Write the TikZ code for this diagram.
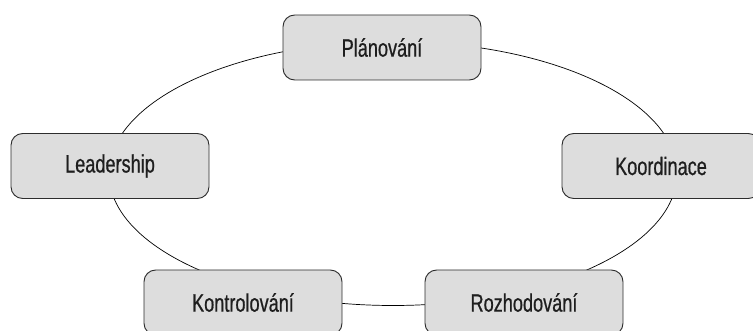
\documentclass[tikz,border=0pt]{standalone}
\usepackage{xcolor}
\definecolor{boxgray}{RGB}{221, 221, 221}
\definecolor{edgegray}{RGB}{45, 45, 45}
\definecolor{textgray}{RGB}{30, 30, 30}
\usepackage{fontspec}
\newfontfamily\boxfont{Liberation Sans}[FakeStretch=0.72, FakeBold=0.6]
\usepackage{tikz}
\usetikzlibrary{positioning}

\begin{document}
\begin{tikzpicture}[
    every node/.style={align=center},
    activity/.style={rectangle, rounded corners=0.35cm, draw=edgegray, line width=0.8pt, fill=boxgray, text=textgray, minimum width=5.94cm, minimum height=1.95cm, font=\boxfont\fontsize{21.5}{24}\selectfont},
    cycle/.style={draw=black, line width=0.6pt}
]
\useasboundingbox (0,0) rectangle (22.59,9.93);

% Ring
\coordinate (mid) at (11.79,4.725);
\draw[cycle] (mid) ellipse [x radius=8.52cm, y radius=3.96cm];

% Nodes
\node[activity] (plan) at (11.46,8.505) {Plánování};
\node[activity] (lead) at (3.30,4.95) {Leadership};
\node[activity] (koord) at (19.83,4.95) {Koordinace};
\node[activity] (kontrol) at (7.29,0.855) {Kontrolování};
\node[activity] (rozhod) at (15.72,0.855) {Rozhodování};

\end{tikzpicture}
\end{document}
